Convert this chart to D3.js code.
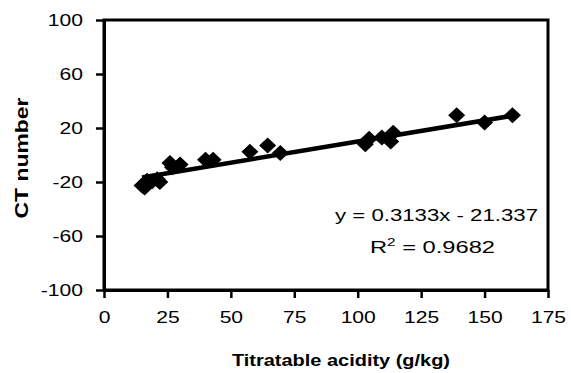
<!DOCTYPE html>
<html>
<head>
<meta charset="utf-8">
<script src="https://cdn.jsdelivr.net/npm/d3@7"></script>
<style>
  body { margin: 0; background: #fff; }
  text { font-family: "Liberation Sans", Arial, sans-serif; fill: #000; }
</style>
</head>
<body>
<svg width="571" height="373"></svg>
<script>
// values
var acidity = [15, 16, 17, 19, 21, 22, 26, 27, 30, 40, 43, 57.5, 64.5, 69.5, 103, 104.5, 109.5, 113, 114, 139, 150, 161]
var ctNumber = [-22.5, -24, -19, -19.5, -18, -20, -6, -9, -7, -3.5, -3.5, 2.5, 7, 1.5, 8, 12, 13, 10, 16.5, 29.5, 24, 29.5]
var xTicks = [0, 25, 50, 75, 100, 125, 150, 175]
var yTicks = [-100, -60, -20, 20, 60, 100]
var slope = 0.3133, intercept = -21.337
var eqText = "y = 0.3133x - 21.337"
var r2Text = "0.9682"

var svg = d3.select("svg")
    .attr("width", 571)
    .attr("height", 373)

// plot box (don't call it "top", that's window.top)
var box = {left: 104, top: 20, right: 548, bottom: 290}

var scX = d3.scaleLinear().domain([0, 175]).range([box.left, box.right])
var scY = d3.scaleLinear().domain([-100, 100]).range([box.bottom, box.top])

// the original figure is a bit stretched sideways, so widen the text
function stretch(sel, k) {
    sel.each(function () {
        var w = this.getComputedTextLength()
        this.setAttribute("textLength", w * k)
        this.setAttribute("lengthAdjust", "spacingAndGlyphs")
    })
}

// frame
svg.append("rect")
    .attr("x", box.left).attr("y", box.top)
    .attr("width", box.right - box.left).attr("height", box.bottom - box.top)
    .attr("fill", "none").attr("stroke", "#000").attr("stroke-width", 3)

// plain hyphen for negatives, like the original
var fmt = d => String(d)
var xAxis = d3.axisBottom(scX).tickValues(xTicks).tickFormat(fmt).tickSize(8).tickPadding(13).tickSizeOuter(0)
var yAxis = d3.axisLeft(scY).tickValues(yTicks).tickFormat(fmt).tickSize(8).tickPadding(13).tickSizeOuter(0)

var gx = svg.append("g").attr("transform", `translate(0, ${box.bottom})`).call(xAxis)
var gy = svg.append("g").attr("transform", `translate(${box.left}, 0)`).call(yAxis)

;[gx, gy].forEach(g => {
    g.attr("font-size", 17).attr("font-family", "Liberation Sans, Arial, sans-serif")
    g.select(".domain").attr("stroke-width", 3)
    g.selectAll(".tick line").attr("stroke-width", 2.5)
    g.selectAll(".tick text").call(stretch, 1.24)
})

// trend line
var xr = d3.extent(acidity)
svg.append("line")
    .attr("x1", scX(xr[0])).attr("y1", scY(slope * xr[0] + intercept))
    .attr("x2", scX(xr[1])).attr("y2", scY(slope * xr[1] + intercept))
    .attr("stroke", "#000").attr("stroke-width", 4.5)

// diamond markers
var diamond = "M0,-8L8.5,0L0,8L-8.5,0Z"
svg.selectAll(".pt").data(acidity).enter().append("path")
    .attr("class", "pt")
    .attr("d", diamond)
    .attr("transform", (d, i) => `translate(${scX(d)}, ${scY(ctNumber[i])})`)
    .attr("fill", "#000")

// axis titles
svg.append("text")
    .attr("x", 341).attr("y", 366)
    .attr("text-anchor", "middle")
    .attr("font-size", 17).attr("font-weight", "bold")
    .text("Titratable acidity (g/kg)")
    .attr("textLength", 218).attr("lengthAdjust", "spacingAndGlyphs")

svg.append("text")
    .attr("transform", "translate(28, 158) rotate(-90)")
    .attr("text-anchor", "middle")
    .attr("font-size", 18).attr("font-weight", "bold")
    .text("CT number")
    .attr("textLength", 121).attr("lengthAdjust", "spacingAndGlyphs")

// regression equation
svg.append("text")
    .attr("x", 436.5).attr("y", 221)
    .attr("text-anchor", "middle")
    .attr("font-size", 17)
    .text(eqText)
    .attr("textLength", 203).attr("lengthAdjust", "spacingAndGlyphs")

var r2 = svg.append("text")
    .attr("x", 370).attr("y", 253)
    .attr("font-size", 17)
r2.append("tspan").text("R")
r2.append("tspan").attr("font-size", 11).attr("dy", -7).text("2")
r2.append("tspan").attr("dy", 7).text(" = " + r2Text)
r2.attr("textLength", 125).attr("lengthAdjust", "spacingAndGlyphs")
</script>
</body>
</html>
